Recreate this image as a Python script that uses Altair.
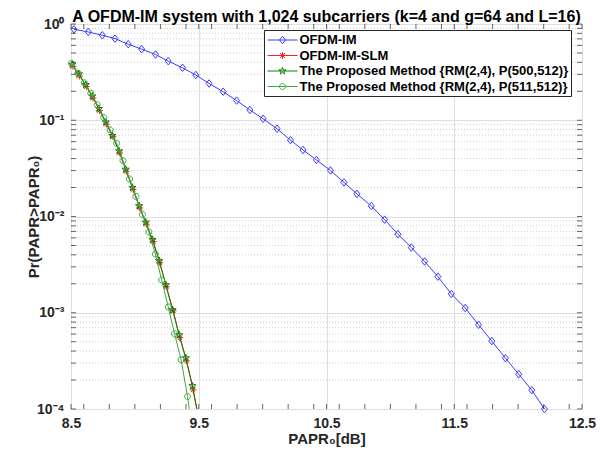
import math
import altair as alt
import pandas as pd

FONT = "Liberation Sans"
TITLE = "A OFDM-IM system with 1,024 subcarriers (k=4 and g=64 and L=16)"
X_TITLE = "PAPR₀[dB]"
Y_TITLE = "Pr(PAPR>PAPR₀)"

series_names = [
    "OFDM-IM",
    "OFDM-IM-SLM",
    "The Proposed Method {RM(2,4), P(500,512)}",
    "The Proposed Method {RM(2,4), P(511,512)}",
]
series_colors = ["#3b3bff", "#ff1f1f", "#0a800a", "#3ea83e"]

ofdm_im_x = [8.523, 8.635, 8.745, 8.844, 8.948, 9.053, 9.162, 9.261, 9.373, 9.477,
             9.581, 9.691, 9.796, 9.900, 10.004, 10.113, 10.218, 10.316, 10.421, 10.531,
             10.637, 10.738, 10.851, 10.955, 11.059, 11.164, 11.268, 11.372, 11.477, 11.586,
             11.690, 11.794, 11.901, 12.005, 12.107, 12.206]
ofdm_im_y = [0.881, 0.827, 0.764, 0.705, 0.617, 0.548, 0.482, 0.411, 0.351, 0.295,
             0.241, 0.198, 0.160, 0.128, 0.1035, 0.0816, 0.0622, 0.0491, 0.0387, 0.0301,
             0.0226, 0.0172, 0.01285, 0.00927, 0.00655, 0.00476, 0.00341, 0.00237, 0.00157, 0.00112,
             0.00075, 0.000508, 0.000337, 0.00023, 0.000157, 0.0001]

slm_x = [8.515, 8.567, 8.620, 8.672, 8.724, 8.777, 8.829, 8.881, 8.933, 8.986,
         9.038, 9.090, 9.143, 9.195, 9.247, 9.300, 9.352, 9.404, 9.456, 9.509]
slm_y = [0.363, 0.288, 0.224, 0.170, 0.126, 0.0912, 0.0676, 0.0457, 0.0295, 0.0191,
         0.0123, 0.00832, 0.0055, 0.00331, 0.00186, 0.00105, 0.00055, 0.000316, 0.000158, 0.0000708]

p500_x = [8.510, 8.562, 8.615, 8.667, 8.719, 8.772, 8.824, 8.876, 8.928, 8.981,
          9.033, 9.085, 9.138, 9.190, 9.242, 9.295, 9.347, 9.399, 9.451, 9.504]
p500_y = [0.380, 0.302, 0.234, 0.178, 0.132, 0.0955, 0.0692, 0.0479, 0.0309, 0.0200,
          0.0129, 0.00871, 0.00575, 0.00347, 0.00195, 0.00107, 0.000589, 0.000339, 0.000174, 0.0000708]

p511_x = [8.503, 8.554, 8.604, 8.655, 8.705, 8.756, 8.806, 8.857, 8.907, 8.958,
          9.008, 9.059, 9.109, 9.160, 9.210, 9.261, 9.311, 9.362, 9.412, 9.463]
p511_y = [0.389, 0.309, 0.245, 0.191, 0.145, 0.107, 0.0794, 0.0575, 0.0380, 0.0245,
          0.0162, 0.0105, 0.00692, 0.00407, 0.00219, 0.00115, 0.000603, 0.000324, 0.000135, 0.0000447]

x_ticks = [8.5, 9.5, 10.5, 11.5, 12.5]
x_tick_labels = ["8.5", "9.5", "10.5", "11.5", "12.5"]
x_minor_ticks = [8.6, 8.8, 9.0, 9.2, 9.4, 9.6, 9.8, 10.0, 10.2, 10.4, 10.6, 10.8,
                 11.0, 11.2, 11.4, 11.6, 11.8, 12.0, 12.2, 12.4]
y_ticks = [1e-4, 1e-3, 1e-2, 1e-1, 1.0]
y_tick_labels = ["10⁻⁴", "10⁻³", "10⁻²", "10⁻¹", "10⁰"]
y_minor_ticks = [m * 10.0 ** e for e in (-4, -3, -2, -1) for m in range(2, 10)]

# marker paths (unit square); legend symbols add the line segment
marker_paths = [
    "M0,-0.5L0.4,0L0,0.5L-0.4,0Z",
    "M-0.45,0L0.45,0M0,-0.45L0,0.45M-0.32,-0.32L0.32,0.32M-0.32,0.32L0.32,-0.32",
    "M0,-0.5L0.112,-0.154L0.476,-0.155L0.181,0.059L0.294,0.405L0,0.19L-0.294,0.405"
    "L-0.181,0.059L-0.476,-0.155L-0.112,-0.154Z",
    "M-0.4,0A0.4,0.4,0,1,0,0.4,0A0.4,0.4,0,1,0,-0.4,0Z",
]
legend_paths = ["M-2,0L2,0" + p for p in marker_paths]

W, H = 511, 385
INK = "#262626"

x_scale = alt.Scale(domain=[8.5, 12.5], nice=False, zero=False)
y_scale = alt.Scale(type="log", domain=[1e-4, 1.0], nice=False)

x_label_expr = " : ".join(
    f"abs(datum.value - {v}) < 0.01 ? '{l}'" for v, l in zip(x_ticks, x_tick_labels)) + " : ''"
y_label_expr = " : ".join(
    f"abs(log(datum.value)/LN10 - ({round(math.log10(v))})) < 0.1 ? '{l}'"
    for v, l in zip(y_ticks, y_tick_labels)) + " : ''"

x_axis = alt.Axis(values=x_ticks, labelExpr=x_label_expr, title=X_TITLE, grid=True,
                  gridColor="#dedede", gridWidth=1, ticks=False, domain=False,
                  labelFont=FONT, labelFontWeight="bold", labelFontSize=14, labelColor=INK,
                  labelPadding=7, titleFont=FONT, titleFontWeight="bold", titleFontSize=15,
                  titleColor=INK, titlePadding=1, labelFlush=False)
y_axis = alt.Axis(values=y_ticks, labelExpr=y_label_expr, title=Y_TITLE, grid=True,
                  gridColor="#dedede", gridWidth=1, ticks=False, domain=False,
                  labelFont=FONT, labelFontWeight="bold", labelFontSize=14, labelColor=INK,
                  labelPadding=7, titleFont=FONT, titleFontWeight="bold", titleFontSize=15,
                  titleColor=INK, titlePadding=-5, labelFlush=False)


def X(field="x"):
    return alt.X(f"{field}:Q", scale=x_scale, axis=x_axis)


def Y(field="y"):
    return alt.Y(f"{field}:Q", scale=y_scale, axis=y_axis)


layers = []

# minor dotted grid
minor_df = pd.DataFrame({"y": y_minor_ticks})
layers.append(alt.Chart(minor_df).mark_rule(color="#c4c4c4", strokeDash=[1, 2], strokeWidth=0.8)
              .encode(y=Y()))

series_x = [ofdm_im_x, slm_x, p500_x, p511_x]
series_y = [ofdm_im_y, slm_y, p500_y, p511_y]
for name, xs, ys, col, path in zip(series_names, series_x, series_y, series_colors, marker_paths):
    d = pd.DataFrame({"x": xs, "y": ys, "series": name})
    layers.append(alt.Chart(d).mark_line(color=col, strokeWidth=1, clip=True)
                  .encode(x=X(), y=Y()))
    layers.append(alt.Chart(d).transform_filter("datum.y >= 0.0000999")
                  .mark_point(shape=path, size=225, filled=False, color=col, strokeWidth=1, opacity=1)
                  .encode(x=X(), y=Y()))

# inward tick marks on all four sides
xt_df = pd.DataFrame({"x": x_ticks + x_minor_ticks})
yt_df = pd.DataFrame({"y": y_ticks + y_minor_ticks})
for ypos in (H - 2.5, 2.5):
    layers.append(alt.Chart(xt_df).mark_tick(orient="vertical", size=5, thickness=1, color=INK)
                  .encode(x=X(), y=alt.value(ypos)))
for xpos in (2.5, W - 2.5):
    layers.append(alt.Chart(yt_df).mark_tick(orient="horizontal", size=5, thickness=1, color=INK)
                  .encode(y=Y(), x=alt.value(xpos)))

# legend carrier (points lie outside the domain and are clipped)
leg_df = pd.DataFrame({"series": series_names, "x": [8.0] * 4, "y": [0.5] * 4})
legend = alt.Legend(title=None, orient="none", legendX=193, legendY=6,
                    fillColor="white", strokeColor=INK, padding=2, cornerRadius=0,
                    labelFont=FONT, labelFontWeight="bold", labelFontSize=13, labelColor="black",
                    labelLimit=500, rowPadding=0.5, symbolSize=225, symbolStrokeWidth=1,
                    symbolOffset=8.5, labelOffset=9)
layers.append(alt.Chart(leg_df).mark_point(size=225, filled=False, strokeWidth=1, clip=True, opacity=1)
              .encode(x=X(), y=Y(),
                      color=alt.Color("series:N", scale=alt.Scale(domain=series_names, range=series_colors),
                                      legend=legend),
                      shape=alt.Shape("series:N", scale=alt.Scale(domain=series_names, range=legend_paths),
                                      legend=legend)))

chart = (alt.layer(*layers)
         .properties(width=W, height=H, autosize="none",
                     padding={"left": 63, "top": 16, "right": 20, "bottom": 50},
                     title=alt.Title(TITLE, font=FONT, fontWeight="bold", fontSize=16, color="black",
                                     anchor="middle", offset=4, dy=12))
         .configure_view(stroke=INK, strokeWidth=1)
         .configure(background="white"))

chart.save("out.html", embed_options={"renderer": "svg", "actions": False})
